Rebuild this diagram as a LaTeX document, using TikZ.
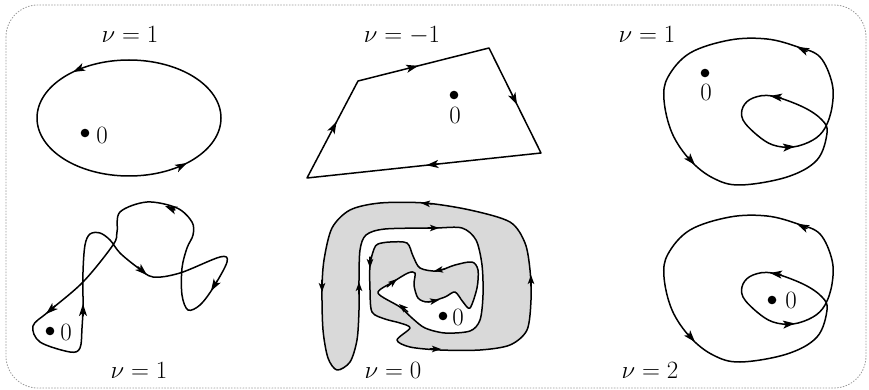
\documentclass[tikz,border=0pt]{standalone}
\usetikzlibrary{arrows.meta,calc}
\tikzset{
  curve/.style={line width=1.5pt, line join=round},
  tip/.style={line width=1.5pt, -{Stealth[length=12pt,width=8pt,inset=3pt]}},
  smalltip/.style={line width=1.3pt, -{Stealth[length=9pt,width=6.5pt,inset=2.2pt]}},
  lab/.style={font=\fontsize{27}{32}\selectfont, anchor=base, inner sep=0pt},
  zero/.style={font=\fontsize{27}{32}\selectfont, inner sep=0pt},
}
\newcommand{\arr}[3][tip]{\draw[#1] #2 -- #3;}
\begin{document}
\begin{tikzpicture}[x=1pt, y=-1pt, line cap=round]
\useasboundingbox (0,0) rectangle (869,390);
% frame
\draw[gray!80, dotted, line width=0.9pt, rounded corners=32pt] (6,5) rectangle (866,388);

% top left: ellipse
\node[lab] (lab1) at (130,43) {$\nu = 1$};
\draw[curve] (129,118) ellipse [x radius=92, y radius=58];
\arr{(80.3,68.6)}{(73,72)}
\arr{(180,166.6)}{(187,163)}
\fill (85,133) circle [radius=4.3pt];
\node[zero] (zero1) at (102,135) {$0$};

% top middle: quadrilateral
\node[lab] (lab2) at (402,43) {$\nu = -1$};
\coordinate (P1) at (358,81);
\coordinate (P2) at (489,48);
\coordinate (P3) at (541,153);
\coordinate (P4) at (307,178);
\draw[curve] (P1) -- (P2) -- (P3) -- (P4) -- cycle;
\arr{($(P1)!0.38!(P2)$)}{($(P1)!0.46!(P2)$)}
\arr{($(P2)!0.45!(P3)$)}{($(P2)!0.54!(P3)$)}
\arr{($(P3)!0.44!(P4)$)}{($(P3)!0.49!(P4)$)}
\arr{($(P4)!0.50!(P1)$)}{($(P4)!0.58!(P1)$)}
\fill (454,95) circle [radius=4.3pt];
\node[zero] (zero2) at (455,115) {$0$};

% right column: loop with inner lobe (twice)
\foreach \dy in {0,177} {
  \begin{scope}[shift={(0,\dy)}]
    \draw[curve] plot[smooth cycle, tension=0.6] coordinates {(740,185) (787,177) (817,160) (827,133) (822,120) (803,107) (772,96) (753,98) (743,107) (743,120) (757,135) (773,145) (793,147) (813,140) (825,128) (832,107) (832,83) (820,57) (798,47) (767,39) (730,40) (690,53) (668,77) (664,100) (672,133) (690,160) (713,178)};
    \arr{(781,97.5)}{(770,96)}
    \arr{(784,147.5)}{(795,146.5)}
    \arr{(807,51.5)}{(797,47)}
    \arr{(688,157)}{(695,165)}
  \end{scope}
}
\node[lab] (lab3) at (647,43) {$\nu = 1$};
\fill (705,73) circle [radius=4.3pt];
\node[zero] (zero3) at (706,92) {$0$};
\node[lab] (lab6) at (650,378) {$\nu = 2$};
\fill (772,300) circle [radius=4.3pt];
\node[zero] (zero6) at (791,300) {$0$};

% bottom left: wiggly curve
\draw[curve] plot[smooth cycle, tension=0.55] coordinates {(33,326) (40,342) (70,352) (80,348) (82,328) (83,307) (83,272) (85,245) (90,234) (100,233) (110,240) (120,253) (137,267) (153,277) (180,273) (220,257) (227,262) (213,288) (200,305) (188,310) (182,295) (182,268) (187,248) (193,235) (192,222) (177,208) (147,202) (120,212) (117,232) (113,245) (83,282) (48,312)};
\arr{(83,316)}{(83,304)}
\arr{(138,267)}{(147,275)}
\arr{(217,281)}{(211,291)}
\arr{(175,210)}{(165,206)}
\arr{(55,306)}{(46,314)}
\node[lab] (lab4) at (139,378) {$\nu = 1$};
\fill (50,331) circle [radius=4.3pt];
\node[zero] (zero4) at (66,332) {$0$};

% bottom middle: spiral with shaded parts
\filldraw[curve, fill=black!15, even odd rule] plot[smooth cycle, tension=0.5] coordinates {(374,249) (370,265) (370,290) (372,312) (385,319) (400,323) (410,328) (397,340) (410,347) (440,350) (480,350) (510,345) (527,330) (531,300) (530,270) (525,243) (510,222) (470,210) (425,203) (380,203) (350,210) (332,228) (324,260) (322,290) (323,330) (328,358) (337,370) (350,362) (357,340) (359,310) (359,280) (360,250) (366,235) (385,229) (435,228) (462,228) (476,240) (482,265) (483,295) (480,320) (470,331) (445,333) (425,328) (412,318) (400,307) (378,293) (393,282) (408,273) (415,273) (414,285) (418,298) (428,302) (445,297) (455,292) (463,302) (470,308) (477,288) (478,270) (472,262) (455,265) (437,271) (420,268) (413,256) (407,243) (390,242) (378,244)};
\arr[smalltip]{(370,257)}{(370,268)}
\arr[smalltip]{(430,349)}{(441,349)}
\arr[smalltip]{(531,286)}{(531,275)}
\arr[smalltip]{(432,204)}{(421,203)}
\arr[smalltip]{(322,280)}{(322,292)}
\arr[smalltip]{(359,294)}{(359,282)}
\arr[smalltip]{(428,228)}{(439,228)}
\arr[smalltip]{(408,312)}{(399,304)}
\arr[smalltip]{(387,287)}{(397,279)}
\arr[smalltip]{(428,302)}{(439,300)}
\arr[smalltip]{(445,269)}{(434,271)}
\node[lab] (lab5) at (393,378) {$\nu = 0$};
\fill (443,316) circle [radius=4.3pt];
\node[zero] (zero5) at (458,317) {$0$};
\end{tikzpicture}
\end{document}
